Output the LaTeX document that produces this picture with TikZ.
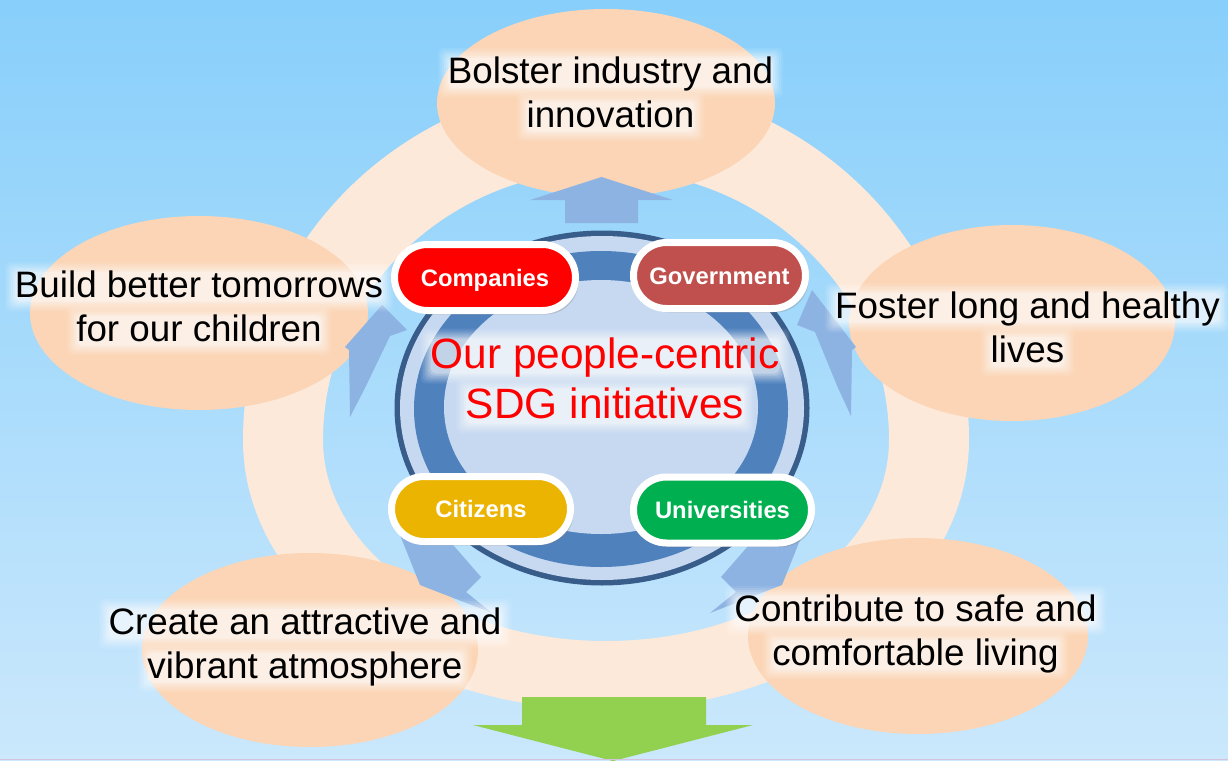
\documentclass[tikz,border=0pt]{standalone}
\usepackage{fontspec}
\setmainfont{Liberation Sans}
\usetikzlibrary{shapes.misc,shadows}
\definecolor{bgtop}{HTML}{88CFFB}
\definecolor{bgbot}{HTML}{CBE8FC}
\definecolor{ringc}{HTML}{FDE9D9}
\definecolor{peachc}{HTML}{FBD5B5}
\definecolor{arrowc}{HTML}{8DB3E2}
\definecolor{navyc}{HTML}{385D8A}
\definecolor{bandc}{HTML}{C6D9F1}
\definecolor{midblue}{HTML}{4F81BD}
\definecolor{compc}{HTML}{FF0000}
\definecolor{govc}{HTML}{C0504D}
\definecolor{citc}{HTML}{EBB400}
\definecolor{unic}{HTML}{00B050}
\definecolor{greenc}{HTML}{92D050}
\definecolor{lavc}{HTML}{D6C2DE}
\tikzset{
  peach/.style={fill=peachc},
  blockarrow/.style={fill=arrowc},
  pill/.style={rounded rectangle, draw=white, line width=7pt, text=white,
    font=\bfseries\fontsize{23.8}{28}\selectfont, text height=17pt, text depth=0pt,
    inner sep=0pt, minimum height=66pt,
    drop shadow={shadow xshift=3pt, shadow yshift=-4pt, opacity=0.3}},
  outertext/.style={align=center, anchor=base, inner sep=0pt, text=black,
    font=\fontsize{36.8}{44}\selectfont},
  coretext/.style={align=center, anchor=base, inner sep=0pt, text=compc,
    font=\fontsize{42.4}{50}\selectfont},
}
\newcommand{\halo}[4]{%
  \foreach \k/\o in {0/0.3,2/0.2,4/0.17,6/0.14,8/0.11,10/0.08}{%
    \fill[white, opacity=\o, rounded corners=6pt]
      ({#1-#3/2-\k},{#2-0.74*#4-\k+2}) rectangle ({#1+#3/2+\k},{#2+0.18*#4+\k-2});
  }}
\begin{document}
\begin{tikzpicture}[x=1pt,y=-1pt]
\useasboundingbox (0,0) rectangle (1228,760);
\shade[top color=bgtop, bottom color=bgbot] (0,0) rectangle (1228,760);
% ring
\fill[ringc, even odd rule]
  (243,440) arc[start angle=180,end angle=360,x radius=363,y radius=357]
            arc[start angle=0,end angle=180,x radius=363,y radius=270] -- cycle
  (323,440) arc[start angle=180,end angle=360,x radius=283,y radius=270]
            arc[start angle=0,end angle=180,x radius=283,y radius=201] -- cycle;
% outer ellipses
\fill[peach] (606,103) ellipse[x radius=169, y radius=94];
\fill[peach] (199,313) ellipse[x radius=169, y radius=97];
\fill[peach] (1012,323) ellipse[x radius=163, y radius=98];
\fill[peach] (310,650) ellipse[x radius=168, y radius=97];
\fill[peach] (918,636) ellipse[x radius=170, y radius=98];
% central disc
\fill[navyc] (602,408) ellipse[x radius=207.5, y radius=177.5];
\fill[bandc] (602,408) ellipse[x radius=202, y radius=172];
\fill[midblue] (601,409) ellipse[x radius=187, y radius=158];
\fill[bandc] (601,407) ellipse[x radius=157, y radius=127];
% block arrows
\fill[blockarrow] (565,223) -- (565,200) -- (530,200) -- (601.5,177) -- (673,200) -- (638,200) -- (638,223) -- cycle;
\fill[blockarrow] (382,305) -- (407,330) -- (390,336) -- (365,388) -- (350,417) -- (349,350) -- (345,347) -- cycle;
\fill[blockarrow] (812,290) -- (797,325) -- (815,332) -- (838,388) -- (851,416) -- (852,350) -- (856,347) -- cycle;
\fill[blockarrow] (398,530) -- (420,585) -- (492,613) -- (466,592) -- (481,577) -- (440,530) -- cycle;
\fill[blockarrow] (804,530) -- (782,585) -- (710,613) -- (736,592) -- (721,577) -- (762,530) -- cycle;
% green arrow
\fill[greenc] (522,697) -- (706,697) -- (706,725) -- (753,725) -- (613,761) -- (473,725) -- (522,725) -- cycle;
% pills
\node[pill, fill=compc, minimum width=181pt] (companies) at (485,277.5) {Companies};
\node[pill, fill=govc, minimum width=172pt] (government) at (719.5,275.5) {Government};
\node[pill, fill=citc, minimum width=179pt, minimum height=65pt] (citizens) at (481,509) {Citizens};
\node[pill, fill=unic, minimum width=178pt] (universities) at (722.5,510) {Universities};
% halos
\halo{610.5}{83}{325}{36.8}
\halo{610.5}{127}{168}{36.8}
\halo{199}{297}{368}{36.8}
\halo{199}{341}{245}{36.8}
\halo{1027.5}{318}{385}{36.8}
\halo{1027.5}{362}{74}{36.8}
\halo{305}{634}{393}{36.8}
\halo{305}{678}{315}{36.8}
\halo{915.5}{621}{362}{36.8}
\halo{915.5}{665}{286}{36.8}
\halo{605}{368}{349}{42.4}
\halo{605}{418}{278}{42.4}
% texts (base anchor = baseline of last line)
\node[outertext] (top) at (610.5,127) {Bolster industry and\\innovation};
\node[outertext] (left) at (199,341) {Build better tomorrows\\for our children};
\node[outertext] (right) at (1027.5,362) {Foster long and healthy\\lives};
\node[outertext] (botleft) at (305,678) {Create an attractive and\\vibrant atmosphere};
\node[outertext] (botright) at (915.5,665) {Contribute to safe and\\comfortable living};
\node[coretext] (core) at (605,418) {Our people-centric\\SDG initiatives};
\draw[lavc, line width=1.5pt] (0,759.3) -- (1228,759.3);
\end{tikzpicture}
\end{document}
